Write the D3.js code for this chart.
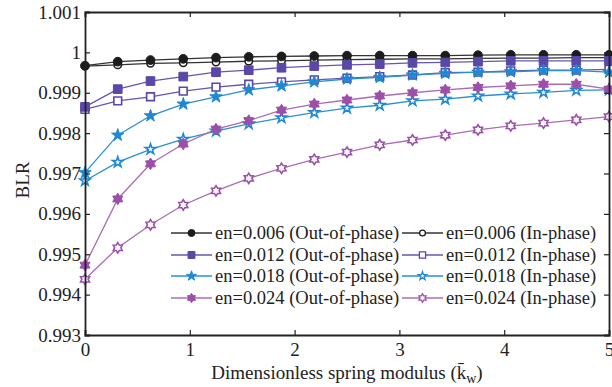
<!DOCTYPE html>
<html>
<head>
<meta charset="utf-8">
<script src="https://cdn.jsdelivr.net/npm/d3@7"></script>
<style>
  body { margin: 0; background: #fff; }
  svg text { font-family: "Liberation Serif", "DejaVu Serif", serif; fill: #222; }
  .axis path, .axis line { stroke: #222; }
</style>
</head>
<body>
<div id="output"></div>
<script>
// x positions: 17 points over 0..5
const kw = d3.range(17).map(i => i * 5 / 16);

const out006 = [0.99967, 0.99977, 0.99981, 0.99984, 0.99987, 0.99989, 0.99990, 0.99991, 0.99992, 0.99992, 0.99992, 0.99992, 0.99993, 0.99994, 0.99994, 0.99994, 0.99994];
const in006  = [0.99966, 0.99969, 0.99973, 0.99974, 0.99976, 0.99978, 0.99979, 0.99981, 0.99982, 0.99983, 0.99984, 0.99984, 0.99985, 0.99986, 0.99986, 0.99987, 0.99987];
const out012 = [0.99865, 0.99909, 0.99929, 0.99940, 0.99951, 0.99956, 0.99962, 0.99966, 0.99969, 0.99971, 0.99974, 0.99975, 0.99977, 0.99979, 0.99979, 0.99979, 0.99979];
const in012  = [0.99859, 0.99880, 0.99890, 0.99904, 0.99914, 0.99921, 0.99927, 0.99932, 0.99936, 0.99940, 0.99944, 0.99950, 0.99951, 0.99954, 0.99956, 0.99956, 0.99958];
const out018 = [0.99702, 0.99795, 0.99843, 0.99872, 0.99890, 0.99907, 0.99917, 0.99927, 0.99934, 0.99938, 0.99944, 0.99948, 0.99951, 0.99952, 0.99955, 0.99955, 0.99951];
const in018  = [0.99682, 0.99728, 0.99760, 0.99785, 0.99805, 0.99823, 0.99838, 0.99851, 0.99862, 0.99869, 0.99880, 0.99884, 0.99892, 0.99897, 0.99901, 0.99906, 0.99907];
const out024 = [0.99473, 0.99637, 0.99724, 0.99773, 0.99810, 0.99831, 0.99857, 0.99872, 0.99882, 0.99892, 0.99900, 0.99907, 0.99913, 0.99917, 0.99921, 0.99921, 0.99909];
const in024  = [0.99438, 0.99516, 0.99573, 0.99622, 0.99657, 0.99688, 0.99713, 0.99735, 0.99753, 0.99771, 0.99783, 0.99795, 0.99808, 0.99818, 0.99825, 0.99833, 0.99841];

const yTicks = [0.993, 0.994, 0.995, 0.996, 0.997, 0.998, 0.999, 1, 1.001];
const xTicks = [0, 1, 2, 3, 4, 5];

const series = [
  { name: 'en=0.006 (Out-of-phase)', values: out006, color: '#1c1c1c', line: '#333', shape: 'circle', open: false },
  { name: 'en=0.012 (Out-of-phase)', values: out012, color: '#5a47a6', line: '#6756b0', shape: 'square', open: false },
  { name: 'en=0.018 (Out-of-phase)', values: out018, color: '#1f88d3', line: '#2a8fd6', shape: 'star', open: false },
  { name: 'en=0.024 (Out-of-phase)', values: out024, color: '#9c4fa9', line: '#ab6bb6', shape: 'hex', open: false },
  { name: 'en=0.006 (In-phase)', values: in006, color: '#1c1c1c', line: '#333', shape: 'circle', open: true },
  { name: 'en=0.012 (In-phase)', values: in012, color: '#5a47a6', line: '#6756b0', shape: 'square', open: true },
  { name: 'en=0.018 (In-phase)', values: in018, color: '#1f88d3', line: '#2a8fd6', shape: 'star', open: true },
  { name: 'en=0.024 (In-phase)', values: in024, color: '#9c4fa9', line: '#ab6bb6', shape: 'hex', open: true }
];

const width = 612, height = 387;
const margin = { left: 85, right: 3, top: 12, bottom: 52 };

const svg = d3.select('#output').append('svg')
  .attr('width', width)
  .attr('height', height);

const x = d3.scaleLinear().domain([0, 5]).range([margin.left, width - margin.right]);
const y = d3.scaleLinear().domain([0.993, 1.001]).range([height - margin.bottom, margin.top]);

// six-pointed star path
function hexagram(r) {
  const pts = [];
  for (let i = 0; i < 12; i++) {
    const a = -Math.PI / 2 + i * Math.PI / 6;
    const rr = i % 2 === 0 ? r : r * 0.6;
    pts.push([rr * Math.cos(a), rr * Math.sin(a)]);
  }
  return 'M' + pts.map(p => p.join(',')).join('L') + 'Z';
}

function markerPath(shape, s, open) {
  if (shape === 'circle') return d3.symbol(d3.symbolCircle, (open ? 42 : 60) * s * s)();
  if (shape === 'square') return d3.symbol(d3.symbolSquare, (open ? 60 : 75) * s * s)();
  if (shape === 'star') return d3.symbol(d3.symbolStar, (open ? 34 : 48) * s * s)();
  return hexagram((open ? 5.2 : 5.8) * s);
}

const line = d3.line()
  .x((d, i) => x(kw[i]))
  .y(d => y(d));

// lines (in-phase first, so out-of-phase drawn on top)
const order = [4, 5, 6, 7, 0, 1, 2, 3];
const plot = svg.append('g');
order.forEach(k => {
  const s = series[k];
  const g = plot.append('g');
  g.append('path')
    .attr('d', line(s.values))
    .attr('fill', 'none')
    .attr('stroke', s.line)
    .attr('stroke-width', 1.3);
  g.selectAll('path.mk')
    .data(s.values)
    .join('path')
    .attr('class', 'mk')
    .attr('transform', (d, i) => `translate(${x(kw[i])},${y(d)})`)
    .attr('d', markerPath(s.shape, 1, s.open))
    .attr('fill', s.open ? '#fff' : s.color)
    .attr('stroke', s.color)
    .attr('stroke-width', s.open ? 1.6 : 1);
});

// axes (box with inward ticks)
const tickLen = 5;
svg.append('g').attr('class', 'axis')
  .attr('transform', `translate(0,${y(0.993)})`)
  .call(d3.axisBottom(x).tickValues(xTicks).tickSize(-tickLen).tickPadding(8).tickFormat(d3.format('d')))
  .call(g => g.selectAll('text').style('font-size', '19px'));

svg.append('g').attr('class', 'axis')
  .attr('transform', `translate(0,${y(1.001)})`)
  .call(d3.axisTop(x).tickValues(xTicks).tickSize(-tickLen).tickFormat(''));

svg.append('g').attr('class', 'axis')
  .attr('transform', `translate(${x(0)},0)`)
  .call(d3.axisLeft(y).tickValues(yTicks).tickSize(-tickLen).tickPadding(4).tickFormat(d => d === 1 ? '1' : d3.format('.3f')(d)))
  .call(g => g.selectAll('text').style('font-size', '19px'));

svg.append('g').attr('class', 'axis')
  .attr('transform', `translate(${x(5)},0)`)
  .call(d3.axisRight(y).tickValues(yTicks).tickSize(-tickLen).tickFormat(''));

svg.selectAll('.axis path.domain').attr('stroke-width', 1.8);
svg.selectAll('.axis .tick line').attr('stroke-width', 1.2);

// axis titles
const xt = svg.append('text')
  .attr('x', 347)
  .attr('y', 379)
  .attr('text-anchor', 'middle')
  .style('font-size', '19px');
xt.append('tspan').text('Dimensionless spring modulus (');
xt.append('tspan').text('k\u0304');
xt.append('tspan').text('w').attr('dy', 4).style('font-size', '14px');
xt.append('tspan').text(')').attr('dy', -4);

svg.append('text')
  .attr('transform', 'translate(29,180) rotate(-90)')
  .attr('text-anchor', 'middle')
  .style('font-size', '19px')
  .text('BLR');

// legend
const legRows = [233, 255, 276, 298];
const legCols = [
  { x1: 171, x2: 212, tx: 215 },
  { x1: 402, x2: 443, tx: 446 }
];
series.forEach((s, k) => {
  const col = legCols[k < 4 ? 0 : 1];
  const ly = legRows[k % 4];
  const g = svg.append('g');
  g.append('line')
    .attr('x1', col.x1).attr('x2', col.x2)
    .attr('y1', ly).attr('y2', ly)
    .attr('stroke', s.line).attr('stroke-width', 1.3);
  g.append('path')
    .attr('transform', `translate(${(col.x1 + col.x2) / 2},${ly})`)
    .attr('d', markerPath(s.shape, 0.8, s.open))
    .attr('fill', s.open ? '#fff' : s.color)
    .attr('stroke', s.color)
    .attr('stroke-width', s.open ? 1.3 : 1);
  g.append('text')
    .attr('x', col.tx)
    .attr('y', ly + 6)
    .style('font-size', '18.5px')
    .text(s.name);
});
</script>
</body>
</html>
